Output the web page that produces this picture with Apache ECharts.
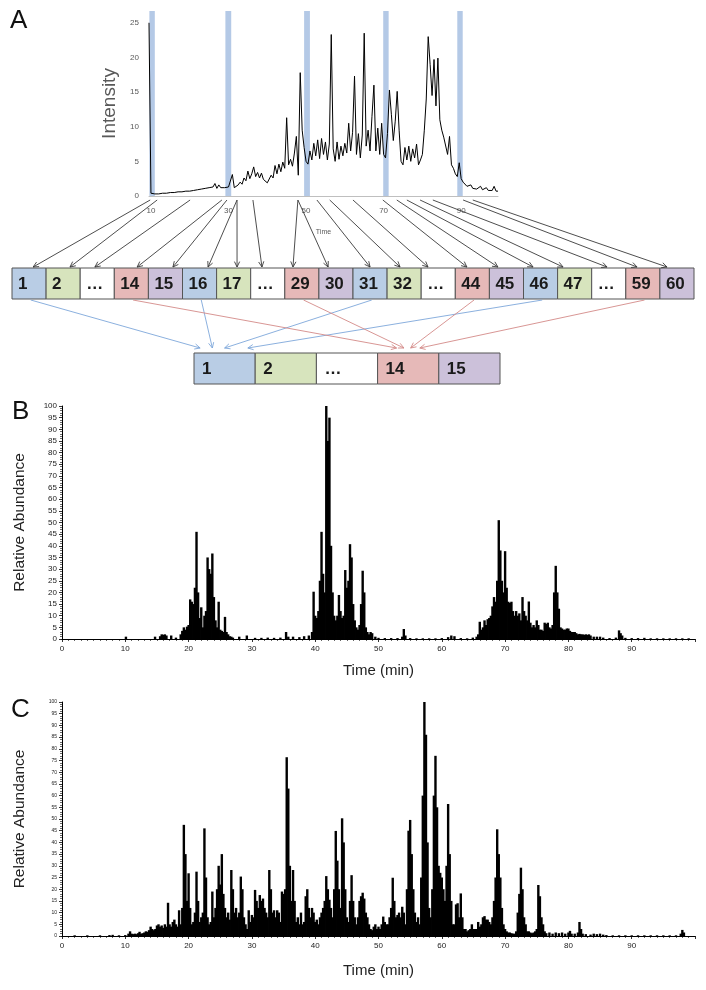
<!DOCTYPE html>
<html><head><meta charset="utf-8">
<script src="https://cdn.jsdelivr.net/npm/echarts@6/dist/echarts.min.js"></script>
<style>html,body{margin:0;padding:0;background:#fff}#c{width:706px;height:990px}</style>
</head><body><div id="c"></div>
<script>
// ---------------- Panel A : intensity trace (0.5 min sampling from 9.5 min) ----------------
const aStart = 9.5, aStep = 0.5;
const aIntensity = [
 25,0.4,0.3,0.3,0.2,0.3,0.3,0.4,0.3,0.4,
 0.4,0.5,0.4,0.5,0.5,0.6,0.5,0.6,0.6,0.7,
 0.6,0.7,0.7,0.8,0.7,0.9,0.8,1.0,0.9,1.1,
 1.0,1.2,1.0,1.3,1.8,1.1,1.6,1.2,1.3,1.2,
 1.4,1.3,1.5,3.1,1.2,1.4,1.6,2.0,1.7,2.6,
 2.2,3.6,2.5,3.2,4.2,2.8,3.4,2.6,3.3,2.4,
 2.2,1.9,2.1,3.0,2.6,4.4,3.2,4.6,3.5,4.9,
 4.0,11.3,4.5,5.3,4.3,6.2,8.6,3.0,17.8,9.5,
 7.0,5.0,4.6,6.5,5.2,7.6,5.8,8.1,5.4,8.3,
 6.0,7.8,5.2,7.5,23.3,6.8,5.0,7.8,5.3,7.2,
 5.8,7.6,6.2,10.5,6.5,9.2,17.3,6.0,9.0,5.5,
 8.8,23.5,7.2,9.5,6.5,11.5,16.0,6.5,9.8,6.0,
 10.5,6.0,5.5,9.0,15.3,11.8,8.0,10.8,15.1,9.5,
 5.0,4.5,7.0,5.2,7.2,5.0,6.8,5.5,7.5,4.5,
 5.2,6.0,9.5,14.0,23.0,19.0,14.5,19.7,13.0,19.9,
 11.0,9.5,8.5,8.6,6.0,8.6,4.5,4.0,3.2,2.8,
 4.8,2.5,2.0,1.8,1.4,1.3,1.6,1.1,1.0,1.0,
 1.0,1.4,0.9,0.9,1.2,0.8,0.8,0.8,1.4,0.7,
 0.7
];
const aTickLabels = [10, 30, 50, 70, 90];
const aBandRanges = [[9.6,11.0],[29.2,30.7],[49.5,51.0],[69.9,71.3],[89.0,90.4]];

// ---------------- Panel B : [time (min), relative abundance] ----------------
const bPeaks = [
[10.1,1],[14.7,1],[15.5,1.2],[15.75,2],[16,1.8],[16.25,2],[16.5,1.5],[17.25,1.5],[18,0.6],
[18.75,2],[19,3.5],[19.25,5],[19.5,4],[19.75,5.3],[20,6],[20.25,17],[20.5,16],[20.75,15],[21,22],[21.25,46],[21.5,20],[21.75,9],[22,13.6],[22.25,5],[22.5,10],[22.75,12],[23,35],[23.25,30],[23.5,28],[23.75,36.7],[24,18],[24.25,8],[24.5,5],[24.75,16],[25,4],[25.25,3.5],[25.5,3],[25.75,9.5],[26,3],[26.25,2],[26.5,1.2],[26.75,1],[27,0.6],
[28,1],[29.2,1.5],[30.5,0.5],[31.5,0.5],[32.5,0.6],[33.5,0.5],[34.5,0.6],[35.4,3],[35.75,1],[36.5,1],[37.5,0.8],[38.25,1.2],[39,1.5],
[39.5,3],[39.75,20.3],[40,10],[40.25,9],[40.5,12],[40.75,25],[41,46],[41.25,28],[41.5,20],[41.75,100],[42,85],[42.25,95],[42.5,40],[42.75,20],[43,10],[43.25,8],[43.5,10],[43.75,18.9],[44,12],[44.25,9],[44.5,10],[44.75,29.6],[45,22],[45.25,25],[45.5,40.7],[45.75,35],[46,15],[46.25,8],[46.5,5],[46.75,4],[47,6],[47.25,15],[47.5,29.3],[47.75,20],[48,5],[48.25,3],[48.5,2],[48.75,3],[49,2.5],
[49.5,1],[50,0.5],[51,0.4],[52,0.4],[53,0.4],[53.75,1],[54,4.3],[54.25,1.5],[55,0.4],[56,0.3],[57,0.3],[58,0.3],[59,0.3],[60,0.4],[61,0.8],[61.5,1.5],[62,1.2],[63,0.4],[64,0.3],[64.9,0.6],[65.5,1],
[65.75,2],[66,7.4],[66.25,4],[66.5,5],[66.75,8],[67,6],[67.25,8.5],[67.5,9],[67.75,10],[68,14],[68.25,18],[68.5,16],[68.75,25],[69,51],[69.25,38],[69.5,25],[69.75,20],[70,37.7],[70.25,22],[70.5,16],[70.75,15.5],[71,16],[71.25,12],[71.5,10],[71.75,12],[72,10],[72.25,11],[72.5,8],[72.75,18],[73,12],[73.25,10],[73.5,8],[73.75,16.1],[74,7],[74.25,5],[74.5,6],[74.75,5],[75,8],[75.25,6],[75.5,4],[75.75,4],[76,3.5],[76.25,7],[76.5,6.5],[76.75,7],[77,5],[77.25,4.5],[77.5,6],[77.75,20],[78,31.4],[78.25,20],[78.5,13],[78.75,5],[79,4.5],[79.25,4],[79.5,4],[79.75,4.5],[80,4.5],[80.25,3.5],[80.5,3],[80.75,3],[81,3],[81.25,2.5],[81.5,2],[81.75,2.2],[82,2],[82.25,2],[82.5,1.8],[82.75,2],[83,1.8],[83.25,2],[83.5,1.5],[84,1],[84.5,1],[85,1],[85.5,0.6],[86.5,0.4],[87.5,0.6],[88,3.7],[88.25,2.5],[88.5,1.5],[89,0.5],[90,0.4],[91,0.4],[92,0.5],[93,0.3],[94,0.3],[95,0.3],[96,0.3],[97,0.3],[98,0.3],[99,0.3]
];

// ---------------- Panel C : [time (min), relative abundance] ----------------
const cPeaks = [
[2,0.3],[4,0.3],[6,0.3],[7.5,0.4],[8,0.5],[9,0.3],[10,0.4],
[10.5,1.0],[10.75,2.0],[11,1.0],[11.25,0.8],[11.5,1.0],[11.75,0.8],[12,1.2],[12.25,1.8],[12.5,1.0],[12.75,1.2],[13,1.5],[13.25,2.0],[13.5,1.8],[13.75,2.5],[14,4.0],[14.25,3.0],[14.5,2.5],[14.75,3.0],[15,4.5],[15.25,5.0],[15.5,4.0],[15.75,4.5],[16,3.5],[16.25,5.0],[16.5,4.0],[16.75,14.2],[17,5],[17.25,4],[17.5,6],[17.75,7],[18,5],[18.25,4],[18.5,11],[18.75,5],[19,12],[19.25,47.5],[19.5,35],[19.75,15],[20,26.8],[20.25,12],[20.5,5],[20.75,6],[21,10],[21.25,27.5],[21.5,15],[21.75,6],[22,8],[22.25,10],[22.5,46],[22.75,25],[23,8],[23.25,5],[23.5,6],[23.75,19],[24,8],[24.25,12],[24.5,20],[24.75,30],[25,22],[25.25,35],[25.5,18],[25.75,12],[26,8],[26.25,10],[26.5,7],[26.75,28.2],[27,20],[27.25,10],[27.5,12],[27.75,8],[28,10],[28.25,25.4],[28.5,20],[28.75,8],[29,5],[29.25,3],[29.5,11],[29.75,6],[30,9],[30.25,8],[30.5,19.7],[30.75,15],[31,12],[31.25,17.5],[31.5,15],[31.75,16],[32,12],[32.25,10],[32.5,8],[32.75,28.2],[33,20],[33.25,10],[33.5,11],[33.75,8],[34,11],[34.25,10],[34.5,6],[34.75,19],[35,18],[35.25,20],[35.5,76.4],[35.75,63],[36,30],[36.25,15],[36.5,28.2],[36.75,15],[37,6],[37.25,8],[37.5,5],[37.75,10],[38,5],[38.25,6],[38.5,17],[38.75,20],[39,12],[39.25,8],[39.5,12],[39.75,10],[40,6],[40.25,7],[40.5,5],[40.75,8],[41,10],[41.25,12],[41.5,15],[41.75,25.6],[42,20],[42.25,15.5],[42.5,12],[42.75,8],[43,20],[43.25,44.9],[43.5,32.2],[43.75,20],[44,12],[44.25,50.3],[44.5,40],[44.75,20],[45,8],[45.25,6],[45.5,15],[45.75,26],[46,15],[46.25,8],[46.5,5],[46.75,8],[47,15],[47.25,17],[47.5,18.5],[47.75,16],[48,10],[48.25,8],[48.5,5],[48.75,3],[49,2.5],[49.25,4],[49.5,5],[49.75,3],[50,4],[50.25,3],[50.5,5],[50.75,8.3],[51,6],[51.25,5],[51.5,5],[51.75,8],[52,12],[52.25,24.9],[52.5,15],[52.75,8],[53,9],[53.25,10],[53.5,8],[53.75,12.5],[54,10],[54.25,5],[54.5,20],[54.75,45],[55,49.6],[55.25,35],[55.5,20],[55.75,10],[56,6],[56.25,8],[56.5,5],[56.75,25],[57,60],[57.25,100],[57.5,86],[57.75,40],[58,12],[58.25,8],[58.5,20],[58.75,60],[59,77],[59.25,55],[59.5,30],[59.75,27],[60,25],[60.25,20],[60.5,15],[60.75,30],[61,56.4],[61.25,35],[61.5,15],[61.75,5],[62,5],[62.25,13.5],[62.5,14],[62.75,8],[63,18.2],[63.25,8],[63.5,3],[63.75,3],[64,2],[64.25,2.5],[64.5,3],[64.75,5],[65,3],[65.25,3],[65.5,3],[65.75,6],[66,4],[66.25,5],[66.5,8],[66.75,8.5],[67,7],[67.25,7],[67.5,6],[67.75,5],[68,8],[68.25,15],[68.5,25],[68.75,45.6],[69,35],[69.25,25],[69.5,12],[69.75,5],[70,3],[70.25,2],[70.5,1.5],[70.75,1.5],[71,1.2],[71.25,1],[71.5,1],[71.75,2],[72,10],[72.25,18],[72.5,29.2],[72.75,20],[73,8],[73.25,5],[73.5,2],[73.75,2],[74,1.5],[74.25,1.2],[74.5,1.5],[74.75,2],[75,3],[75.25,21.8],[75.5,17],[75.75,8],[76,5],[76.25,2],[76.5,1.2],
[77,1.5],[77.5,1],[78,1.5],[78.5,1.2],[79,1.5],[79.5,1],[80,1.5],[80.25,2.2],[80.5,1],[81,1],[81.5,1.5],[81.75,6],[82,3],[82.25,1],[82.75,0.8],[83.5,0.6],[84,1],[84.5,0.8],[85,1],[85.5,0.6],[86,0.4],[87,0.3],[88,0.3],[89,0.3],[90,0.3],[91,0.3],[92,0.3],[93,0.3],[94,0.3],[95,0.3],[96,0.3],[97,0.3],[97.75,1],[98,2.6],[98.25,1.5]
];

// ---------------- Fraction diagram ----------------
const topBoxLabels = ['1','2','…','14','15','16','17','…','29','30','31','32','…','44','45','46','47','…','59','60'];
const topBoxClass  = [0,1,2,3,4,0,1,2,3,4,0,1,2,3,4,0,1,2,3,4];
const bottomBoxLabels = ['1','2','…','14','15'];
const bottomBoxClass  = [0,1,2,3,4];
const classColors = ['#b9cde5','#d7e4bd','#ffffff','#e6b9b8','#ccc1da'];
// time (min) on panel A axis where each collection arrow starts, one per top box
const arrowSourceTimes = [9.8,11.6,20.1,28.3,29.6,32.2,32.2,36.3,47.9,47.9,52.8,56.1,62.1,69.8,73.4,76.0,79.4,82.7,90.5,93.0];
const arrowHeadFrac = [0.62,0.70,0.43,0.67,0.72,0.75,0.6,0.33,0.24,0.27,0.5,0.38,0.2,0.34,0.25,0.28,0.16,0.45,0.33,0.21];
// pooling: [top box index, bottom box index, target fraction in bottom box]
const poolLinks = [[0,0,0.10],[5,0,0.30],[10,0,0.50],[15,0,0.88],[3,3,0.31],[8,3,0.43],[13,3,0.54],[18,3,0.69]];
const linkColors = {0:'#7ea7da', 3:'#d48a88'};

// layout (pixels)
const TOP_X0 = 12, TOP_W = 34.1, TOP_Y0 = 268, TOP_Y1 = 299;
const BOT_X0 = 194, BOT_W = 61.2, BOT_Y0 = 353, BOT_Y1 = 384;

const FONT = '"Liberation Sans", Arial, sans-serif';
const chart = echarts.init(document.getElementById('c'), null, {renderer:'canvas', width:706, height:990});

const aData = aIntensity.map((v, i) => [aStart + i * aStep, v]);

const boxData = [];
topBoxLabels.forEach((l, i) => boxData.push([TOP_X0 + i*TOP_W, TOP_Y0, TOP_X0 + (i+1)*TOP_W, TOP_Y1, topBoxClass[i], l, 6]));
bottomBoxLabels.forEach((l, i) => boxData.push([BOT_X0 + i*BOT_W, BOT_Y0, BOT_X0 + (i+1)*BOT_W, BOT_Y1, bottomBoxClass[i], l, 8]));

function arrowItem(params, api, color) {
  const p1 = api.coord([api.value(0), api.value(1)]);
  const p2 = api.coord([api.value(2), api.value(3)]);
  const ang = Math.atan2(p2[1]-p1[1], p2[0]-p1[0]);
  const L = 6, a = 0.45;
  const h1 = [p2[0] - L*Math.cos(ang - a), p2[1] - L*Math.sin(ang - a)];
  const h2 = [p2[0] - L*Math.cos(ang + a), p2[1] - L*Math.sin(ang + a)];
  const c = color || api.visual('color');
  return {type:'group', children:[
    {type:'line', shape:{x1:p1[0],y1:p1[1],x2:p2[0],y2:p2[1]}, style:{stroke:c, lineWidth:0.9}},
    {type:'polyline', shape:{points:[h1,p2,h2]}, style:{stroke:c, lineWidth:0.9, fill:null}}
  ]};
}

const valueAxisCommon = (grid) => ({
  gridIndex: grid, type:'value', min:0, max:100, interval:5,
  axisLine:{show:true, lineStyle:{color:'#000', width:1}},
  axisTick:{show:true, length:3, lineStyle:{color:'#000', width:0.8}},
  minorTick:{show:true, splitNumber:5, length:2, lineStyle:{color:'#000', width:0.6}},
  splitLine:{show:false},
  name:'Relative Abundance', nameLocation:'middle', nameGap:34,
  nameTextStyle:{fontSize:15.5, color:'#222', fontFamily:FONT}
});
const timeAxisCommon = (grid, gap) => ({
  gridIndex: grid, type:'value', min:0, max:100, interval:10,
  axisLine:{show:true, lineStyle:{color:'#000', width:1.2}},
  axisTick:{show:true, length:3, lineStyle:{color:'#000', width:0.8}},
  minorTick:{show:true, splitNumber:10, length:2, lineStyle:{color:'#000', width:0.6}},
  splitLine:{show:false},
  axisLabel:{fontSize:8, color:'#222', margin:6, showMaxLabel:false, fontFamily:FONT},
  name:'Time (min)', nameLocation:'middle', nameGap:gap,
  nameTextStyle:{fontSize:15, color:'#222', fontFamily:FONT}
});

const yB = valueAxisCommon(1);
yB.axisLabel = {fontSize:8, color:'#222', margin:5, fontFamily:FONT};
const yC = valueAxisCommon(2);
yC.axisLabel = {fontSize:5, color:'#222', margin:5, fontFamily:FONT};

const option = {
  animation:false,
  backgroundColor:'#fff',
  title:[
    {text:'A', left:5, top:3, textStyle:{fontSize:26, fontWeight:'normal', color:'#111', fontFamily:FONT}},
    {text:'B', left:7, top:394, textStyle:{fontSize:26, fontWeight:'normal', color:'#111', fontFamily:FONT}},
    {text:'C', left:6, top:692, textStyle:{fontSize:26, fontWeight:'normal', color:'#111', fontFamily:FONT}}
  ],
  grid:[
    {left:149, top:11, width:349, height:185, outerBoundsMode:'none'},
    {left:62, top:406, width:633, height:233, outerBoundsMode:'none'},
    {left:62, top:702, width:633, height:234, outerBoundsMode:'none'},
    {left:0, top:0, width:706, height:990, outerBoundsMode:'none'}
  ],
  xAxis:[
    {gridIndex:0, type:'value', min:9.5, max:99.5,
     axisLine:{show:true, lineStyle:{color:'#bfbfbf', width:1}},
     axisTick:{show:false}, splitLine:{show:false},
     axisLabel:{customValues:aTickLabels, fontSize:8, color:'#595959', margin:11, fontFamily:FONT},
     name:'Time', nameLocation:'middle', nameGap:33,
     nameTextStyle:{fontSize:7, color:'#595959', fontFamily:FONT}},
    timeAxisCommon(1, 24),
    timeAxisCommon(2, 27),
    {gridIndex:3, type:'value', min:0, max:706, show:false}
  ],
  yAxis:[
    {gridIndex:0, type:'value', min:0, max:26.7, interval:5,
     axisLine:{show:false}, axisTick:{show:false}, splitLine:{show:false},
     axisLabel:{fontSize:8, color:'#595959', margin:10, showMaxLabel:false, fontFamily:FONT},
     name:'Intensity', nameLocation:'middle', nameGap:30,
     nameTextStyle:{fontSize:19, color:'#595959', fontFamily:FONT}},
    yB, yC,
    {gridIndex:3, type:'value', min:0, max:990, inverse:true, show:false}
  ],
  series:[
    {id:'a', type:'line', xAxisIndex:0, yAxisIndex:0, data:aData, showSymbol:false, silent:true,
     lineStyle:{color:'#000', width:1}, z:2,
     markArea:{silent:true, itemStyle:{color:'rgba(161,187,224,0.8)'},
       data:aBandRanges.map(r => [{xAxis:r[0]}, {xAxis:r[1]}])}},
    {id:'b', type:'bar', xAxisIndex:1, yAxisIndex:1, data:bPeaks, barWidth:2.4, silent:true,
     itemStyle:{color:'#000'}},
    {id:'c', type:'bar', xAxisIndex:2, yAxisIndex:2, data:cPeaks, barWidth:2.4, silent:true,
     itemStyle:{color:'#000'}},
    {id:'boxes', type:'custom', xAxisIndex:3, yAxisIndex:3, data:boxData, silent:true, clip:false,
     encode:{x:[0,2], y:[1,3]}, z:5,
     renderItem:(params, api) => {
       const p0 = api.coord([api.value(0), api.value(1)]);
       const p1 = api.coord([api.value(2), api.value(3)]);
       const d = boxData[params.dataIndex];
       return {type:'group', children:[
         {type:'rect', shape:{x:p0[0], y:p0[1], width:p1[0]-p0[0], height:p1[1]-p0[1]},
          style:{fill:classColors[d[4]], stroke:'#555', lineWidth:1}},
         {type:'text', x:p0[0] + d[6], y:(p0[1]+p1[1])/2 + 1,
          style:{text:d[5], fill:'#1a1a1a', font:'bold 17px ' + FONT, verticalAlign:'middle', align:'left'}}
       ]};
     }},
    {id:'topArrows', type:'custom', xAxisIndex:3, yAxisIndex:3, data:[], silent:true, clip:false,
     encode:{x:[0,2], y:[1,3]}, z:6, renderItem:(p, api) => arrowItem(p, api, '#3a3a3a')},
    {id:'poolArrows', type:'custom', xAxisIndex:3, yAxisIndex:3, data:[], silent:true, clip:false,
     encode:{x:[0,2], y:[1,3]}, z:6, renderItem:(p, api) => arrowItem(p, api, linkColors[poolLinks[p.dataIndex][1]])}
  ]
};
chart.setOption(option);

// second pass: arrows start from the panel-A time axis (library scale)
const topArrowData = arrowSourceTimes.map((t, i) => {
  const p = chart.convertToPixel({xAxisIndex:0, yAxisIndex:0}, [t, 0]);
  const s = chart.convertFromPixel({xAxisIndex:3, yAxisIndex:3}, [p[0], p[1] + 4]);
  return [s[0], s[1], TOP_X0 + (i + arrowHeadFrac[i]) * TOP_W, TOP_Y0 - 1];
});
const poolData = poolLinks.map(l => [TOP_X0 + (l[0] + 0.55) * TOP_W, TOP_Y1 + 1, BOT_X0 + (l[1] + l[2]) * BOT_W, BOT_Y0 - 5]);
chart.setOption({series:[{id:'topArrows', data:topArrowData}, {id:'poolArrows', data:poolData}]});
</script>
</body></html>
